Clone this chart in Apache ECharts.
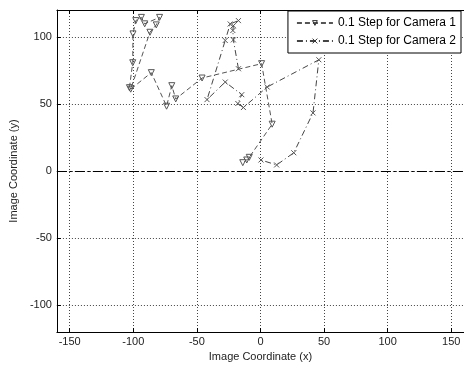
<!DOCTYPE html>
<html>
<head>
<meta charset="utf-8">
<script src="https://cdn.jsdelivr.net/npm/echarts@6/dist/echarts.min.js"></script>
<style>
  html, body { margin: 0; padding: 0; background: #fff; }
  #chart { width: 464px; height: 368px; }
</style>
</head>
<body>
<div id="chart"></div>
<script>
// Image-plane trajectories for the two cameras (0.1 step)
const cam1X = [-103, -100.4, -100.2, -98, -93.6, -91, -79.3, -81.9, -86.9, -102, -85.8, -73.8, -69.7, -66.6, -45.9, 0.9, 9.2, -8.8, -10.8, -13.9];
const cam1Y = [62.1, 80.7, 102.2, 112.1, 114.5, 109.7, 114.5, 108.9, 103.4, 61, 73.3, 48.3, 63.6, 53.7, 69.3, 80, 34.9, 10.2, 8.2, 6.2];

const cam2X = [-17.3, -21.3, -21.7, -21.3, -17.3, -23.8, -27.7, -42, -27.7, -14.7, -17.8, -13.4, 5.3, 45.9, 41.3, 26.2, 12.7, 0.4];
const cam2Y = [76.2, 97.7, 104.7, 108.3, 112.1, 109.6, 97.3, 53.2, 66.3, 56.9, 50.3, 47.3, 62.6, 82.9, 43.3, 13.6, 4.5, 8.2];

const xTicks = [-150, -100, -50, 0, 50, 100, 150];
const yTicks = [-100, -50, 0, 50, 100];
const xRange = [-160, 160];
const yRange = [-120, 120];

const seriesNames = ['0.1 Step for Camera 1', '0.1 Step for Camera 2'];

const zip = (xs, ys) => xs.map((x, i) => [x, ys[i]]);

const FONT = '"Liberation Sans", Arial, sans-serif';
const gridLine = { show: true, lineStyle: { color: '#444', width: 1, type: [1, 2] } };
const crossMark = 'path://M0,0L10,10M10,0L0,10';

const chart = echarts.init(document.getElementById('chart'), null, { renderer: 'canvas' });

chart.setOption({
  animation: false,
  backgroundColor: '#fff',
  textStyle: { fontFamily: FONT },
  grid: { left: 56, top: 10, width: 410, height: 322, containLabel: false },
  legend: {
    data: seriesNames,
    orient: 'vertical',
    right: 3,
    top: 11,
    itemWidth: 36,
    itemHeight: 6,
    itemGap: 6,
    padding: [6, 5, 6, 8],
    backgroundColor: '#fff',
    borderColor: '#000',
    borderWidth: 1,
    borderRadius: 0,
    itemStyle: { color: 'rgba(255,255,255,0)', borderColor: '#333', borderWidth: 1 },
    textStyle: { fontFamily: FONT, fontSize: 12, color: '#000' }
  },
  xAxis: [
    {
      type: 'value', min: xRange[0], max: xRange[1],
      name: 'Image Coordinate (x)', nameLocation: 'middle', nameGap: 19,
      nameTextStyle: { fontFamily: FONT, fontSize: 11, color: '#222' },
      axisLine: { show: true, onZero: false, lineStyle: { color: '#000', width: 1 } },
      axisTick: { show: true, inside: true, length: 4, customValues: xTicks, lineStyle: { color: '#000' } },
      axisLabel: { customValues: xTicks, margin: 4, fontFamily: FONT, fontSize: 11, color: '#222' },
      splitLine: gridLine
    },
    {
      type: 'value', position: 'top', min: xRange[0], max: xRange[1],
      axisLine: { show: true, onZero: false, lineStyle: { color: '#000', width: 1 } },
      axisTick: { show: true, inside: true, length: 4, customValues: xTicks, lineStyle: { color: '#000' } },
      axisLabel: { show: false },
      splitLine: { show: false }
    }
  ],
  yAxis: [
    {
      type: 'value', min: yRange[0], max: yRange[1],
      name: 'Image Coordinate (y)', nameLocation: 'middle', nameGap: 29,
      nameTextStyle: { fontFamily: FONT, fontSize: 11, color: '#222' },
      axisLine: { show: true, onZero: false, lineStyle: { color: '#000', width: 1 } },
      axisTick: { show: true, inside: true, length: 4, customValues: yTicks, lineStyle: { color: '#000' } },
      axisLabel: { customValues: yTicks, margin: 5, fontFamily: FONT, fontSize: 11, color: '#222' },
      splitLine: gridLine
    }
  ],
  series: [
    {
      name: seriesNames[0],
      type: 'line',
      data: zip(cam1X, cam1Y),
      symbol: 'triangle',
      symbolRotate: 180,
      symbolSize: 6,
      showAllSymbol: true,
      lineStyle: { color: '#555', width: 1, type: [5, 3] },
      itemStyle: { color: 'rgba(255,255,255,0)', borderColor: '#555', borderWidth: 1 },
      z: 3
    },
    {
      name: seriesNames[1],
      type: 'line',
      data: zip(cam2X, cam2Y),
      symbol: crossMark,
      symbolSize: 5,
      showAllSymbol: true,
      lineStyle: { color: '#444', width: 1, type: [6, 3, 1, 3] },
      itemStyle: { color: 'rgba(255,255,255,0)', borderColor: '#555', borderWidth: 1 },
      z: 3
    },
    {
      name: 'Zero line',
      type: 'line',
      data: [],
      silent: true,
      markLine: {
        silent: true,
        symbol: 'none',
        label: { show: false },
        lineStyle: { color: '#000', width: 1, type: [10, 3, 2, 3] },
        data: [{ yAxis: 0 }]
      },
      z: 2
    }
  ]
});
</script>
</body>
</html>
